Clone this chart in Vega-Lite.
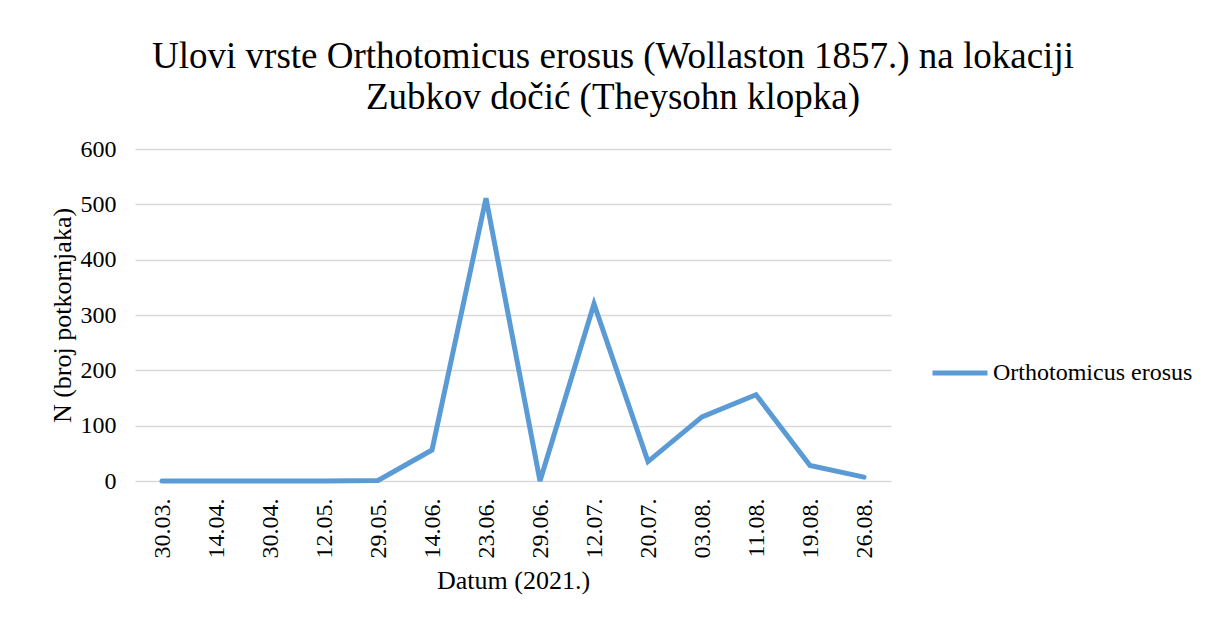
{
  "$schema": "https://vega.github.io/schema/vega-lite/v6.json",
  "width": 756,
  "height": 332,
  "autosize": {"type": "none"},
  "padding": {"left": 135, "top": 149, "right": 315, "bottom": 138},
  "background": "white",
  "title": {
    "text": ["Ulovi vrste Orthotomicus erosus (Wollaston 1857.) na lokaciji", "Zubkov dočić (Theysohn klopka)"],
    "font": "Liberation Serif",
    "fontSize": 37,
    "fontWeight": "normal",
    "color": "#000000",
    "anchor": "middle",
    "frame": "group",
    "dx": 100,
    "lineHeight": 41,
    "offset": 20
  },
  "data": {
    "values": [
      {"datum": "30.03.", "n": 0, "vrsta": "Orthotomicus erosus"},
      {"datum": "14.04.", "n": 0, "vrsta": "Orthotomicus erosus"},
      {"datum": "30.04.", "n": 0, "vrsta": "Orthotomicus erosus"},
      {"datum": "12.05.", "n": 0, "vrsta": "Orthotomicus erosus"},
      {"datum": "29.05.", "n": 1, "vrsta": "Orthotomicus erosus"},
      {"datum": "14.06.", "n": 56, "vrsta": "Orthotomicus erosus"},
      {"datum": "23.06.", "n": 511, "vrsta": "Orthotomicus erosus"},
      {"datum": "29.06.", "n": 0, "vrsta": "Orthotomicus erosus"},
      {"datum": "12.07.", "n": 320, "vrsta": "Orthotomicus erosus"},
      {"datum": "20.07.", "n": 35, "vrsta": "Orthotomicus erosus"},
      {"datum": "03.08.", "n": 116, "vrsta": "Orthotomicus erosus"},
      {"datum": "11.08.", "n": 156, "vrsta": "Orthotomicus erosus"},
      {"datum": "19.08.", "n": 28, "vrsta": "Orthotomicus erosus"},
      {"datum": "26.08.", "n": 7, "vrsta": "Orthotomicus erosus"}
    ]
  },
  "mark": {"type": "line", "strokeWidth": 5, "strokeCap": "round", "strokeJoin": "miter"},
  "encoding": {
    "x": {
      "field": "datum",
      "type": "ordinal",
      "sort": null,
      "scale": {"type": "point", "padding": 0.5},
      "axis": {
        "title": "Datum (2021.)",
        "labelAngle": -90,
        "labelAlign": "right",
        "labelBaseline": "middle",
        "labelPadding": 17,
        "labelFont": "Liberation Serif",
        "labelFontSize": 24,
        "titleFont": "Liberation Serif",
        "titleFontSize": 26,
        "ticks": false,
        "tickSize": 0,
        "domain": false,
        "grid": false,
        "titlePadding": 9
      }
    },
    "y": {
      "field": "n",
      "type": "quantitative",
      "scale": {"domain": [0, 600]},
      "axis": {
        "title": "N (broj potkornjaka)",
        "values": [0, 100, 200, 300, 400, 500, 600],
        "ticks": false,
        "tickSize": 0,
        "labelPadding": 19,
        "labelFont": "Liberation Serif",
        "labelFontSize": 24,
        "titleFont": "Liberation Serif",
        "titleFontSize": 26,
        "domain": false,
        "grid": true,
        "gridColor": "#d9d9d9",
        "gridWidth": 1.5,
        "titlePadding": 5
      }
    },
    "color": {
      "field": "vrsta",
      "type": "nominal",
      "scale": {"range": ["#5b9bd5"]},
      "legend": {
        "title": null,
        "orient": "none",
        "legendX": 795,
        "legendY": 194,
        "symbolType": "stroke",
        "symbolSize": 3025,
        "symbolStrokeWidth": 5,
        "labelOffset": 3,
        "labelLimit": 400,
        "labelFont": "Liberation Serif",
        "labelFontSize": 24,
        "padding": 0
      }
    }
  },
  "config": {
    "font": "Liberation Serif",
    "view": {"stroke": null},
    "axis": {
      "labelColor": "#000000",
      "titleFontWeight": "normal",
      "titleColor": "#000000"
    },
    "legend": {
      "labelColor": "#000000"
    }
  }
}
